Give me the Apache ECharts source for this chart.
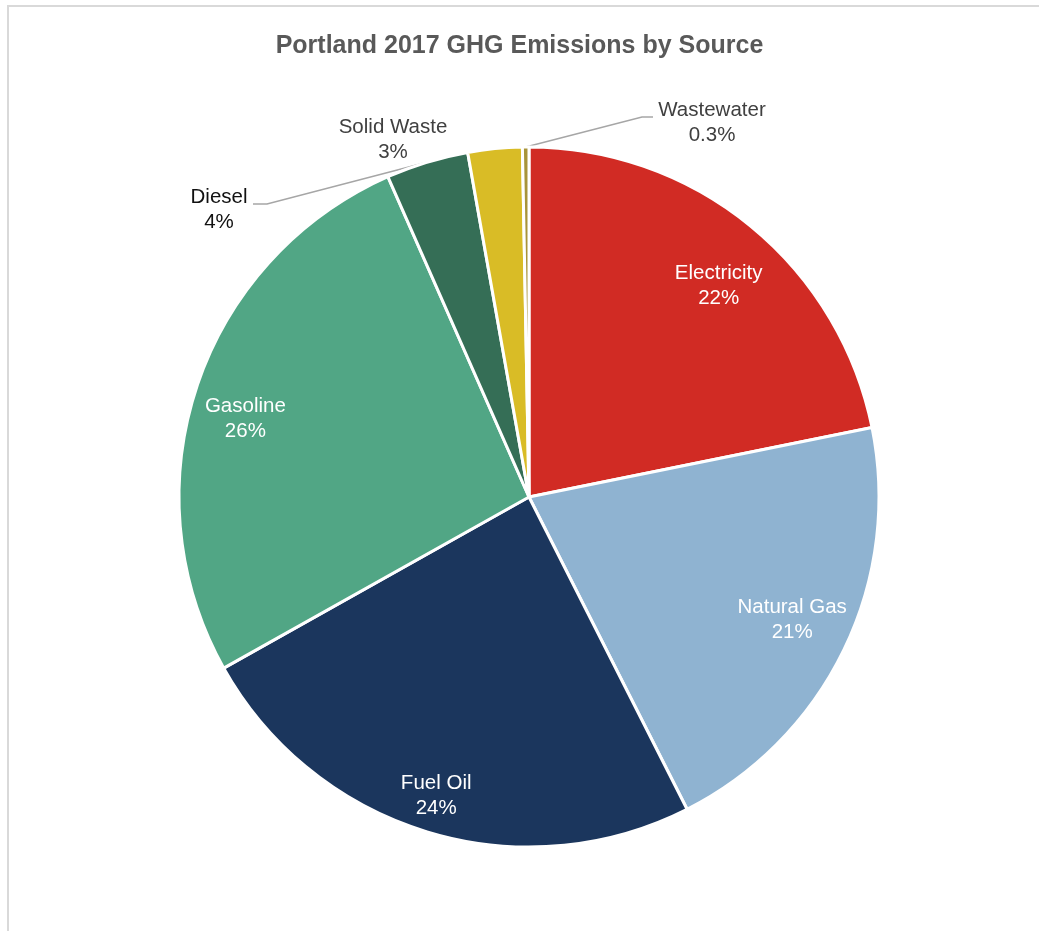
<!DOCTYPE html>
<html>
<head>
<meta charset="utf-8">
<script src="https://cdn.jsdelivr.net/npm/echarts@6/dist/echarts.min.js"></script>
<style>
  html, body { margin: 0; padding: 0; background: #fff; }
  #chart { position: absolute; left: 0; top: 0; width: 1039px; height: 931px; }
  #frame { position: absolute; left: 7px; top: 5px; width: 1100px; height: 1000px;
           border-top: 2px solid #d9d9d9; border-left: 2px solid #d9d9d9; pointer-events: none; }
</style>
</head>
<body>
<div id="chart"></div>
<div id="frame"></div>
<script>
// Data
const categories = ['Electricity', 'Natural Gas', 'Fuel Oil', 'Gasoline', 'Diesel', 'Solid Waste', 'Wastewater'];
const shares = [21.8, 20.7, 24.3, 26.5, 3.8, 2.5, 0.3];
const shareLabels = ['22%', '21%', '24%', '26%', '4%', '3%', '0.3%'];

// Styles
const colors = ['#d12b24', '#8fb3d1', '#1b365d', '#51a685', '#356e56', '#d9bc26', '#a8943a'];
const insideSet = [true, true, true, true, false, false, false];
const outsideTextColor = ['#404040', '#404040', '#404040', '#404040', '#111111', '#404040', '#404040'];
// nudges of inside labels (layout only)
const insideOffset = [[1, 20], [-5, -7], [-6, 14], [-1, 16], [0, 0], [0, 0], [0, 0]];
// label placement for outside labels (layout only): centre of text block, bend points of leader
const outsideLayout = {
  4: { x: 219, y: 210, bend: [[267, 204], [253, 204]], line: true },
  5: { x: 393, y: 140, bend: [], line: false },
  6: { x: 712, y: 123, bend: [[642, 117], [653, 117]], line: true }
};

const FONT = 'Liberation Sans, Arial, sans-serif';
const chart = echarts.init(document.getElementById('chart'), null, { renderer: 'canvas' });

const sliceData = categories.map((c, i) => ({
  name: c,
  value: shares[i],
  itemStyle: { color: colors[i] },
  label: insideSet[i] ? { show: false } : {
    show: true, position: 'outside', color: outsideTextColor[i]
  },
  labelLine: { show: !insideSet[i] && outsideLayout[i].line }
}));

const labelData = categories.map((c, i) => ({
  name: c,
  value: shares[i],
  label: { show: insideSet[i], offset: insideOffset[i] }
}));

chart.setOption({
  animation: false,
  title: {
    text: 'Portland 2017 GHG Emissions by Source',
    left: 'center',
    top: 29,
    textStyle: { fontFamily: FONT, fontSize: 25, fontWeight: 'bold', color: '#595959' }
  },
  series: [
    {
      type: 'pie',
      center: [529, 497],
      radius: [0, 350],
      startAngle: 90,
      clockwise: true,
      avoidLabelOverlap: false,
      itemStyle: { borderColor: '#ffffff', borderWidth: 3 },
      label: {
        fontFamily: FONT, fontSize: 20.5, lineHeight: 25, align: 'center',
        formatter: p => p.name + '\n' + shareLabels[p.dataIndex]
      },
      labelLine: { lineStyle: { color: '#a6a6a6', width: 1.5 }, length: 20, length2: 10 },
      labelLayout: function (params) {
        const cfg = outsideLayout[params.dataIndex];
        if (!cfg) return {};
        const out = { x: cfg.x, y: cfg.y, align: 'center', verticalAlign: 'middle' };
        if (cfg.line && params.labelLinePoints) {
          out.labelLinePoints = [params.labelLinePoints[0]].concat(cfg.bend);
        }
        return out;
      },
      data: sliceData
    },
    {
      type: 'pie',
      center: [529, 497],
      radius: [222, 368],
      startAngle: 90,
      clockwise: true,
      silent: true,
      itemStyle: { color: 'rgba(0,0,0,0)' },
      label: {
        position: 'inside', color: '#ffffff',
        fontFamily: FONT, fontSize: 20.5, lineHeight: 25,
        formatter: p => p.name + '\n' + shareLabels[p.dataIndex]
      },
      labelLine: { show: false },
      data: labelData
    }
  ]
});
</script>
</body>
</html>
